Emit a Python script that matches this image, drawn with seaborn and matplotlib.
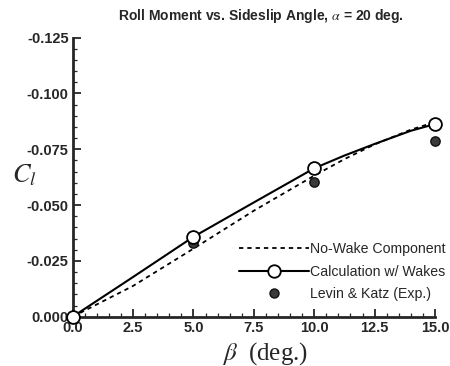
import numpy as np
import pandas as pd
import matplotlib
matplotlib.use("Agg")
import matplotlib.pyplot as plt
from matplotlib.lines import Line2D
from matplotlib.ticker import AutoMinorLocator, FormatStrFormatter
import seaborn as sns

# Sideslip angle (deg) and roll-moment coefficient C_l
beta_curve = [0.0, 2.5, 5.0, 7.5, 10.0, 11.25, 12.5, 14.0, 15.0]
cl_no_wake = [0.0, -0.0138, -0.0305, -0.0475, -0.0632, -0.0706, -0.0772, -0.0838, -0.0872]
cl_wake_curve = [0.0, -0.0178, -0.0358, -0.0512, -0.0665, -0.0722, -0.0774, -0.0833, -0.0863]

beta_pts = [0.0, 5.0, 10.0, 15.0]
cl_wake_pts = [0.0, -0.0358, -0.0665, -0.0863]
beta_exp = [5.0, 10.0, 15.0]
cl_exp = [-0.0332, -0.0605, -0.0786]

x_ticks = [0.0, 2.5, 5.0, 7.5, 10.0, 12.5, 15.0]
y_ticks = [0.000, -0.025, -0.050, -0.075, -0.100, -0.125]

sns.set_style("ticks")
plt.rcParams["font.family"] = ["Liberation Sans", "DejaVu Sans"]
plt.rcParams["mathtext.fontset"] = "stix"

fig = plt.figure(figsize=(4.5, 3.66), dpi=100)
ax = fig.add_axes([0.1616, 0.1347, 0.8051, 0.7623])

nw = pd.DataFrame({"beta": beta_curve, "cl": cl_no_wake})
wk = pd.DataFrame({"beta": beta_curve, "cl": cl_wake_curve})
wp = pd.DataFrame({"beta": beta_pts, "cl": cl_wake_pts})
ex = pd.DataFrame({"beta": beta_exp, "cl": cl_exp})

dash = (0, (2.4, 2.2))
sns.lineplot(data=nw, x="beta", y="cl", ax=ax, color="black", lw=1.3,
             linestyle=dash, clip_on=False)
sns.lineplot(data=wk, x="beta", y="cl", ax=ax, color="black", lw=1.5, clip_on=False)
sns.scatterplot(data=ex, x="beta", y="cl", ax=ax, s=45, color="#3a3a3a",
                edgecolor="#111111", linewidth=1.0, zorder=4, clip_on=False)
sns.scatterplot(data=wp, x="beta", y="cl", ax=ax, s=85, color="white",
                edgecolor="black", linewidth=1.3, zorder=5, clip_on=False)

ax.set_xlim(0, 15)
ax.set_ylim(0, -0.125)
ax.set_xticks(x_ticks)
ax.set_yticks(y_ticks)
ax.xaxis.set_major_formatter(FormatStrFormatter("%.1f"))
ax.yaxis.set_major_formatter(FormatStrFormatter("%.3f"))
ax.xaxis.set_minor_locator(AutoMinorLocator(5))
ax.yaxis.set_minor_locator(AutoMinorLocator(5))
ax.tick_params(which="major", direction="in", length=6, width=1.3, labelsize=10.5, pad=3)
ax.tick_params(which="minor", direction="in", length=3, width=0.9)
for lab in ax.get_xticklabels() + ax.get_yticklabels():
    lab.set_fontweight("bold")

for s in ["top", "right"]:
    ax.spines[s].set_visible(False)
for s in ["left", "bottom"]:
    ax.spines[s].set_linewidth(2.0)

ax.set_xlabel("")
ax.set_ylabel("")
fig.text(0.59, 0.035, r"$\beta$  (deg.)", fontsize=18, family="Liberation Serif",
         ha="center", va="center")
fig.text(0.027, 0.52, r"$C_l$", fontsize=19, ha="left", va="center")
fig.text(0.58, 0.955, r"Roll Moment vs. Sideslip Angle, $\alpha$ = 20 deg.",
         fontsize=10, fontweight="bold", ha="center", va="center")

handles = [
    Line2D([], [], color="black", lw=1.3, linestyle=dash),
    Line2D([], [], color="black", lw=1.5, marker="o", markersize=9,
           markerfacecolor="white", markeredgecolor="black", markeredgewidth=1.3),
    Line2D([], [], linestyle="none", marker="o", markersize=6.5,
           markerfacecolor="#3a3a3a", markeredgecolor="#111111"),
]
labels = ["No-Wake Component", "Calculation w/ Wakes", "Levin & Katz (Exp.)"]
ax.legend(handles, labels, loc="lower right", bbox_to_anchor=(1.045, 0.035),
          frameon=False, fontsize=10.2, handlelength=4.9, handletextpad=0.1,
          labelspacing=0.6, numpoints=1, borderaxespad=0)

fig.savefig("out.png", dpi=100)
